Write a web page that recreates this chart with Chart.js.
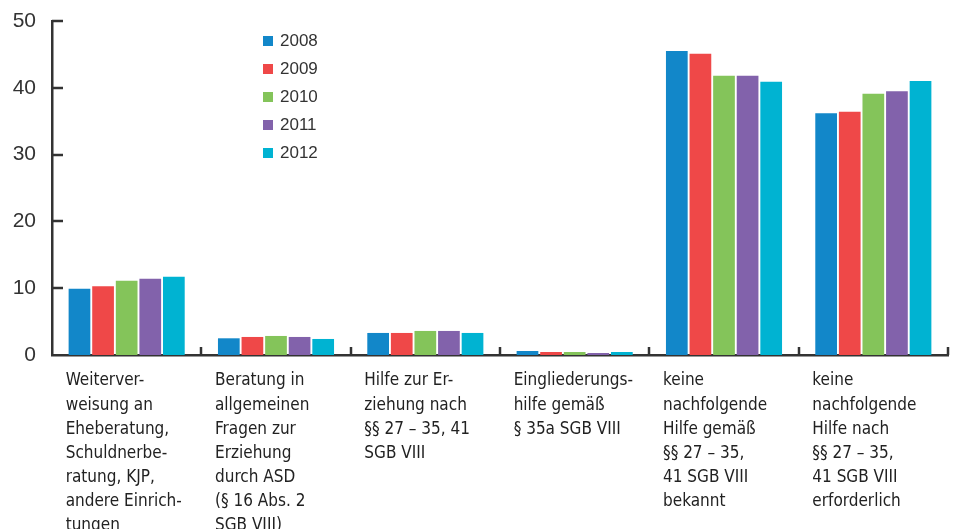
<!DOCTYPE html>
<html>
<head>
<meta charset="utf-8">
<script src="https://cdn.jsdelivr.net/npm/chart.js@4"></script>
<style>
  body { margin: 0; background: #fff; }
  #wrap { position: relative; width: 955px; height: 529px; }
  #legend { position: absolute; left: 263px; top: 27px; font-family: "Liberation Sans", "Noto Sans", sans-serif; font-size: 17px; color: #333; }
  .leg-item { height: 28px; display: flex; align-items: center; }
  .leg-box { width: 10px; height: 10px; margin-right: 7px; }
</style>
</head>
<body>
<div id="wrap">
  <canvas id="chart" width="955" height="529"></canvas>
  <div id="legend"></div>
</div>
<script>
// Categories (multi-line labels)
const categories = [
  ["Weiterver-", "weisung an", "Eheberatung,", "Schuldnerbe-", "ratung, KJP,", "andere Einrich-", "tungen"],
  ["Beratung in", "allgemeinen", "Fragen zur", "Erziehung", "durch ASD", "(§ 16 Abs. 2", "SGB VIII)"],
  ["Hilfe zur Er-", "ziehung nach", "§§ 27 – 35, 41", "SGB VIII"],
  ["Eingliederungs-", "hilfe gemäß", "§ 35a SGB VIII"],
  ["keine", "nachfolgende", "Hilfe gemäß", "§§ 27 – 35,", "41 SGB VIII", "bekannt"],
  ["keine", "nachfolgende", "Hilfe nach", "§§ 27 – 35,", "41 SGB VIII", "erforderlich"]
];

const years = ["2008", "2009", "2010", "2011", "2012"];
const colors = ["#1287c9", "#ef4848", "#84c45a", "#8262ab", "#00b3d2"];

// Values per year
const values2008 = [9.9, 2.5, 3.3, 0.6, 45.5, 36.2];
const values2009 = [10.3, 2.7, 3.3, 0.45, 45.1, 36.4];
const values2010 = [11.1, 2.85, 3.6, 0.45, 41.8, 39.1];
const values2011 = [11.4, 2.7, 3.6, 0.3, 41.8, 39.5];
const values2012 = [11.7, 2.4, 3.3, 0.45, 40.9, 41.0];
const seriesValues = [values2008, values2009, values2010, values2011, values2012];

const yTicks = [0, 10, 20, 30, 40, 50];

const axisColor = "#333";

// Draw inward y ticks and category separator ticks
const axisTicksPlugin = {
  id: "axisTicks",
  afterDraw(chart) {
    const ctx = chart.ctx;
    const area = chart.chartArea;
    const x = chart.scales.x;
    const y = chart.scales.y;
    ctx.save();
    ctx.strokeStyle = axisColor;
    ctx.lineWidth = 2.5;
    yTicks.forEach((v) => {
      if (v === 0) return;
      const py = Math.round(y.getPixelForValue(v));
      ctx.beginPath();
      ctx.moveTo(area.left, py);
      ctx.lineTo(area.left + 11, py);
      ctx.stroke();
    });
    const w = (area.right - area.left) / categories.length;
    for (let i = 1; i <= categories.length; i++) {
      const px = Math.round(x.getPixelForValue(i - 1) + w / 2);
      ctx.beginPath();
      ctx.moveTo(px, area.bottom);
      ctx.lineTo(px, area.bottom - 8);
      ctx.stroke();
    }
    ctx.restore();
  },
};

const ctx = document.getElementById("chart").getContext("2d");
new Chart(ctx, {
  type: "bar",
  data: {
    labels: categories,
    datasets: years.map((yr, i) => ({
      label: yr,
      data: seriesValues[i],
      backgroundColor: colors[i],
      borderWidth: 0,
    })),
  },
  options: {
    responsive: false,
    animation: false,
    categoryPercentage: 0.79,
    barPercentage: 0.92,
    layout: { padding: { top: 21, right: 7, left: 0, bottom: 0 } },
    plugins: {
      legend: { display: false },
      tooltip: { enabled: false },
    },
    scales: {
      x: {
        grid: { display: false },
        border: { display: true, color: axisColor, width: 2.5 },
        ticks: {
          autoSkip: false,
          maxRotation: 0,
          align: "start",
          labelOffset: -61,
          padding: 6,
          color: "#222",
          font: { family: "'Liberation Sans Narrow', 'DejaVu Sans Condensed', 'Liberation Sans', sans-serif", size: 17, lineHeight: 1.42 },
        },
        afterFit(scale) {
          scale.height = 174;
          scale.paddingLeft = 0;
          scale.paddingRight = 0;
        },
      },
      y: {
        min: 0,
        max: 50,
        grid: { display: false },
        border: { display: true, color: axisColor, width: 2.5 },
        ticks: {
          stepSize: 10,
          padding: 8,
          color: "#333",
          font: { family: "'Liberation Sans', 'Noto Sans', sans-serif", size: 21 },
        },
        afterFit(scale) {
          scale.width = 52;
          scale.paddingTop = 0;
          scale.paddingBottom = 0;
        },
      },
    },
  },
  plugins: [axisTicksPlugin],
});

// HTML legend
const legendEl = document.getElementById("legend");
years.forEach((yr, i) => {
  const row = document.createElement("div");
  row.className = "leg-item";
  row.innerHTML = `<span class="leg-box" style="background:${colors[i]}"></span><span>${yr}</span>`;
  legendEl.appendChild(row);
});
</script>
</body>
</html>
